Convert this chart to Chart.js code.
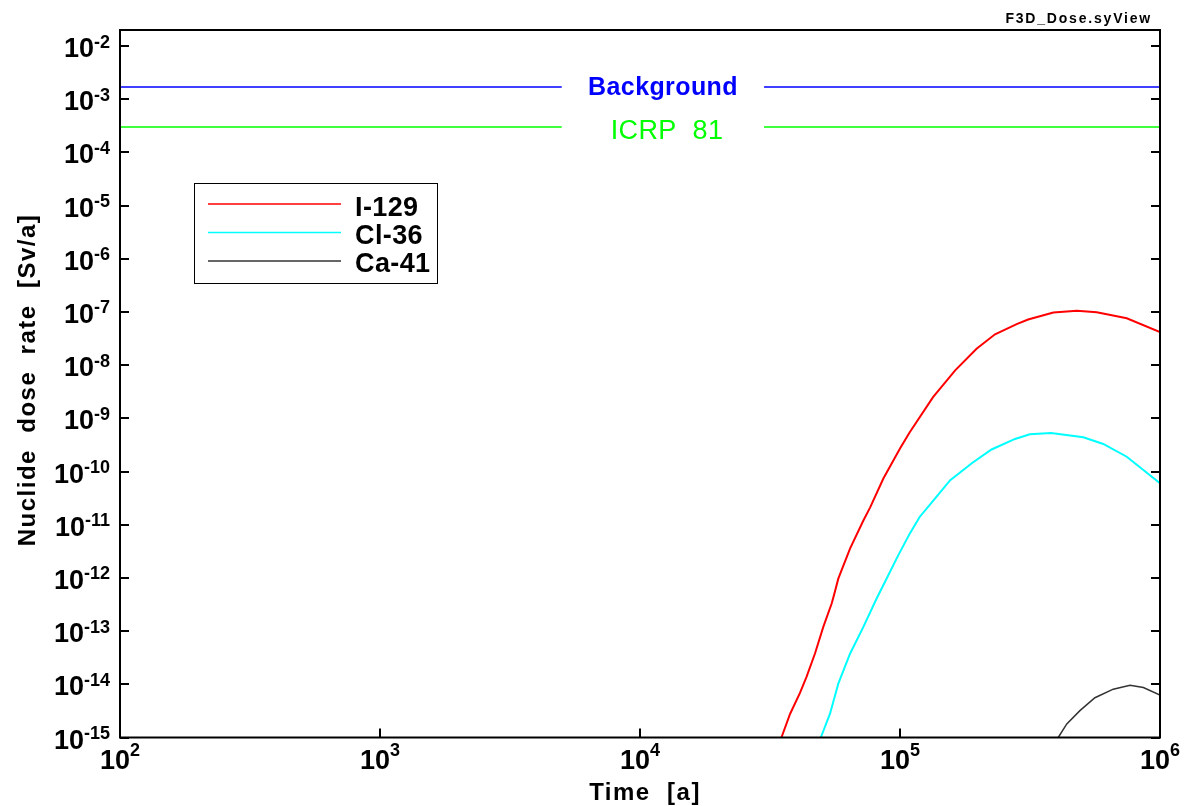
<!DOCTYPE html>
<html>
<head>
<meta charset="utf-8">
<script src="https://cdn.jsdelivr.net/npm/chart.js"></script>
<style>
  html, body { margin: 0; background: #fff; }
</style>
</head>
<body>
<canvas id="doseChart" width="1187" height="806"></canvas>
<script>
// --- Data ---

const i129Time = [3.5e4, 3.78e4, 4.12e4, 4.37e4, 4.71e4, 5.07e4, 5.46e4, 5.57e4, 5.79e4, 6.43e4,
    7.23e4, 7.67e4, 8.63e4, 1e5, 1.09e5, 1.34e5, 1.63e5, 1.97e5, 2.32e5, 2.81e5,
    3.11e5, 3.89e5, 4.79e5, 5.71e5, 7.45e5, 1e6];
const i129Dose = [1e-15, 2.8e-15, 6.8e-15, 1.38e-14, 3.8e-14, 1.2e-13, 3.3e-13, 4.7e-13, 9.7e-13, 3.6e-12,
    1.2e-11, 2.1e-11, 7.4e-11, 2.7e-10, 5.5e-10, 2.5e-9, 8e-9, 2.04e-8, 3.8e-8, 5.9e-8,
    7.2e-8, 9.8e-8, 1.05e-7, 9.9e-8, 7.6e-8, 4.2e-8];

const cl36Time = [4.96e4, 5.38e4, 5.79e4, 6.43e4, 7.23e4, 8.13e4, 8.75e4, 9.82e4, 1.09e5, 1.19e5,
    1.37e5, 1.56e5, 1.9e5, 2.25e5, 2.77e5, 3.16e5, 3.81e5, 5.07e5, 6.05e5, 7.45e5, 1e6];
const cl36Dose = [1e-15, 2.8e-15, 1.03e-14, 3.8e-14, 1.2e-13, 4.1e-13, 8.4e-13, 2.6e-12, 6.8e-12, 1.4e-11,
    3.2e-11, 6.9e-11, 1.46e-10, 2.6e-10, 4.1e-10, 5.0e-10, 5.3e-10, 4.4e-10, 3.3e-10, 1.9e-10, 6e-11];

const ca41Time = [4.06e5, 4.38e5, 4.92e5, 5.62e5, 6.61e5, 7.67e5, 8.63e5, 1e6];
const ca41Dose = [1e-15, 1.8e-15, 3.2e-15, 5.6e-15, 8.1e-15, 9.6e-15, 8.7e-15, 6.3e-15];

// reference levels, broken where their labels sit
const refTime = [1e2, 5e3, 1e4, 3e4, 1e6];
const backgroundDose = [1.7e-3, 1.7e-3, null, 1.7e-3, 1.7e-3];
const icrpDose = [3e-4, 3e-4, null, 3e-4, 3e-4];

// decade exponents for tick labels
const xExponents = [2, 3, 4, 5, 6];
const yExponents = [-15, -14, -13, -12, -11, -10, -9, -8, -7, -6, -5, -4, -3, -2];

const seriesNames = ["I-129", "Cl-36", "Ca-41"];
const seriesColors = ["#ff0000", "#00ffff", "#333333"];

const FONT = '"Liberation Sans", Arial, sans-serif';

function points(xs, ys) {
    return xs.map((x, i) => ({ x, y: ys[i] }));
}

// --- Frame, ticks, labels and legend, drawn MATLAB-style ---

const framePlugin = {
    id: "frame",
    afterDatasetsDraw(chart) {
        const { ctx, chartArea: a, scales: { x, y } } = chart;
        ctx.save();

        // box + inward ticks
        ctx.strokeStyle = "#000";
        ctx.lineWidth = 2;
        ctx.strokeRect(a.left, a.top, a.right - a.left, a.bottom - a.top);
        ctx.beginPath();
        yExponents.forEach(e => {
            const py = Math.round(y.getPixelForValue(Math.pow(10, e)));
            ctx.moveTo(a.left, py); ctx.lineTo(a.left + 9, py);
            ctx.moveTo(a.right, py); ctx.lineTo(a.right - 9, py);
        });
        xExponents.forEach(e => {
            const px = Math.round(x.getPixelForValue(Math.pow(10, e)));
            ctx.moveTo(px, a.bottom); ctx.lineTo(px, a.bottom - 9);
        });
        ctx.stroke();

        // y tick labels
        ctx.fillStyle = "#000";
        ctx.textAlign = "left";
        ctx.textBaseline = "alphabetic";
        yExponents.forEach(e => {
            const py = y.getPixelForValue(Math.pow(10, e));
            const exp = String(e);
            ctx.font = "bold 18px " + FONT;
            const we = ctx.measureText(exp).width;
            ctx.font = "bold 27px " + FONT;
            const wb = ctx.measureText("10").width;
            const right = a.left - 10;
            ctx.fillText("10", right - we - wb, py + 11);
            ctx.font = "bold 18px " + FONT;
            ctx.fillText(exp, right - we, py + 1.5);
        });

        // x tick labels
        xExponents.forEach(e => {
            const px = x.getPixelForValue(Math.pow(10, e));
            const exp = String(e);
            ctx.font = "bold 18px " + FONT;
            const we = ctx.measureText(exp).width;
            ctx.font = "bold 27px " + FONT;
            const wb = ctx.measureText("10").width;
            const start = px - (wb + we) / 2;
            ctx.fillText("10", start, a.bottom + 31.5);
            ctx.font = "bold 18px " + FONT;
            ctx.fillText(exp, start + wb, a.bottom + 18.5);
        });

        // axis titles
        ctx.font = "bold 24px " + FONT;
        ctx.textAlign = "center";
        ctx.letterSpacing = "1.5px";
        ctx.fillText("Time  [a]", 645, 800);
        ctx.save();
        ctx.translate(35, 380);
        ctx.rotate(-Math.PI / 2);
        ctx.fillText("Nuclide  dose  rate  [Sv/a]", 0, 0);
        ctx.restore();
        ctx.letterSpacing = "0px";

        // reference labels
        ctx.fillStyle = "#0000ff";
        ctx.font = "bold 25px " + FONT;
        ctx.letterSpacing = "0.4px";
        ctx.fillText("Background", 663, 95);
        ctx.fillStyle = "#00ff00";
        ctx.font = "27px " + FONT;
        ctx.fillText("ICRP  81", 667, 139);

        // file name, top right
        ctx.fillStyle = "#000";
        ctx.font = "bold 14px " + FONT;
        ctx.textAlign = "right";
        ctx.letterSpacing = "1.8px";
        ctx.fillText("F3D_Dose.syView", 1152, 23);
        ctx.letterSpacing = "0px";

        // legend box
        ctx.fillStyle = "#fff";
        ctx.fillRect(194, 183, 243, 100);
        ctx.strokeStyle = "#000";
        ctx.lineWidth = 1;
        ctx.strokeRect(194.5, 183.5, 243, 100);
        const rows = [204, 232.5, 261];
        const baselines = [216, 244, 272];
        seriesNames.forEach((name, i) => {
            ctx.strokeStyle = seriesColors[i];
            ctx.lineWidth = 1.5;
            ctx.beginPath();
            ctx.moveTo(208, rows[i]); ctx.lineTo(341, rows[i]);
            ctx.stroke();
            ctx.fillStyle = "#000";
            ctx.font = "bold 27px " + FONT;
            ctx.textAlign = "left";
            ctx.letterSpacing = "0.4px";
            ctx.fillText(name, 355, baselines[i]);
            ctx.letterSpacing = "0px";
        });

        ctx.restore();
    }
};

new Chart(document.getElementById("doseChart"), {
    type: "line",
    data: {
        datasets: [
            { label: "Background", data: points(refTime, backgroundDose), borderColor: "#0000ff", borderWidth: 1.5 },
            { label: "ICRP 81", data: points(refTime, icrpDose), borderColor: "#00ff00", borderWidth: 1.5 },
            { label: seriesNames[0], data: points(i129Time, i129Dose), borderColor: seriesColors[0], borderWidth: 2 },
            { label: seriesNames[1], data: points(cl36Time, cl36Dose), borderColor: seriesColors[1], borderWidth: 2 },
            { label: seriesNames[2], data: points(ca41Time, ca41Dose), borderColor: seriesColors[2], borderWidth: 1.5 },
        ],
    },
    options: {
        responsive: false,
        animation: false,
        spanGaps: false,
        elements: { point: { radius: 0 }, line: { tension: 0 } },
        layout: { padding: { left: 120, top: 30, right: 27, bottom: 68.5 } },
        plugins: { legend: { display: false }, tooltip: { enabled: false } },
        scales: {
            x: { type: "logarithmic", min: 1e2, max: 1e6, display: false },
            y: { type: "logarithmic", min: 1e-15, max: 2e-2, display: false },
        },
    },
    plugins: [framePlugin],
});
</script>
</body>
</html>
